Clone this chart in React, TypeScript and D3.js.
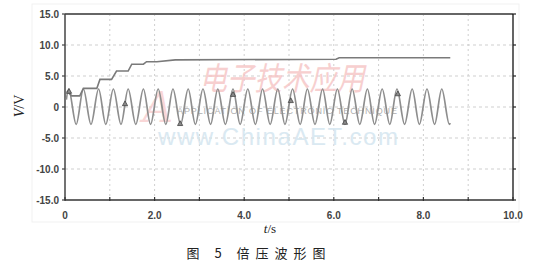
import React from "react";
import * as d3 from "d3";

const xTicksMajor = [0, 2, 4, 6, 8, 10];
const xTickLabels = ["0", "2.0", "4.0", "6.0", "8.0", "10.0"];
const xGrid = [1, 2, 3, 4, 5, 6, 7, 8, 9];
const yTicks = [15, 10, 5, 0, -5, -10, -15];
const yTickLabels = ["15.0", "10.0", "5.0", "0", "-5.0", "-10.0", "-15.0"];
const yGrid = [10, 5, 0, -5, -10];

// stepped (doubled) voltage trace
const stepT = [0.04, 0.15, 0.33, 0.41, 0.71, 0.78, 1.04, 1.15, 1.41, 1.49, 1.75, 1.82, 2.05, 2.46, 6.05, 6.12, 8.6];
const stepV = [2.6, 1.8, 1.8, 3.0, 3.0, 4.45, 4.45, 5.8, 5.8, 6.9, 6.9, 7.3, 7.3, 7.6, 7.7, 7.95, 7.95];

// AC input trace: read extrema
const peakT = [0.08, 0.41, 0.75, 1.08, 1.41, 1.75, 2.08, 2.41, 2.75, 3.08, 3.41, 3.75, 4.08, 4.41, 4.75, 5.08, 5.41, 5.75, 6.08, 6.41, 6.75, 7.08, 7.41, 7.75, 8.08, 8.41];
const troughT = [0.25, 0.58, 0.91, 1.25, 1.58, 1.91, 2.25, 2.58, 2.91, 3.25, 3.58, 3.91, 4.25, 4.58, 4.91, 5.25, 5.58, 5.91, 6.25, 6.58, 6.91, 7.25, 7.58, 7.91, 8.25, 8.58];
const peakV = 2.9;
const troughV = -2.8;
const waveStart = [0.03, 1.2];
const waveEnd = [8.6, -2.6];

// triangle markers
const markT = [0.09, 1.34, 2.57, 3.75, 5.04, 6.25, 7.43];
const markV = [2.5, 0.5, -2.7, 2.0, 1.0, -2.5, 2.1];

export default function App() {
  const x = d3.scaleLinear().domain([0, 10]).range([65, 513]);
  const y = d3.scaleLinear().domain([-15, 15]).range([200, 14]);

  const wavePts: [number, number][] = [[waveStart[0], waveStart[1]]];
  for (let i = 0; i < peakT.length; i++) {
    wavePts.push([peakT[i], peakV]);
    if (troughT[i] < waveEnd[0] - 0.01) wavePts.push([troughT[i], troughV]);
  }
  wavePts.push([waveEnd[0], waveEnd[1]]);

  const waveLine = d3
    .line<[number, number]>()
    .x((d) => x(d[0]))
    .y((d) => y(d[1]))
    .curve(d3.curveMonotoneX);

  const stepPts: [number, number][] = stepT.map((t, i) => [t, stepV[i]]);
  const stepLine = d3
    .line<[number, number]>()
    .x((d) => x(d[0]))
    .y((d) => y(d[1]));

  const tickFont = "'Liberation Sans Narrow', 'Liberation Sans', Arial, sans-serif";
  const [x0, x1] = x.range();
  const [yb, yt] = y.range();

  return (
    <svg width={538} height={269} style={{ position: "absolute", left: 0, top: 0, background: "#fff" }}>
      <rect x={32} y={4} width={487} height={218} fill="none" stroke="#f1f1f1" strokeWidth={1} />
      {/* grid */}
      {xGrid.map((g) => (
        <line key={"gx" + g} x1={x(g)} x2={x(g)} y1={yt} y2={yb} stroke="#cfcfcf" strokeDasharray="2,3" strokeWidth={1} />
      ))}
      {yGrid.map((g) => (
        <line key={"gy" + g} x1={x0} x2={x1} y1={y(g)} y2={y(g)} stroke="#cfcfcf" strokeDasharray="3,3" strokeWidth={1} />
      ))}

      {/* watermarks */}
      <text x={282} y={90} fontFamily="'Noto Sans CJK SC', sans-serif" fontSize={32} fontStyle="italic" fill="#f6c4c4" opacity={0.8} textAnchor="middle" textLength={165} lengthAdjust="spacingAndGlyphs">
        电子技术应用
      </text>
      <text x={158} y={122} fontFamily="'DejaVu Serif', serif" fontSize={42} fontStyle="italic" fill="#f7caca" opacity={0.75} textAnchor="middle">
        A
      </text>
      <text x={287} y={114} fontFamily="'Liberation Sans', sans-serif" fontSize={9} fill="#b0b0b0" textAnchor="middle" textLength={220}>
        APPLICATION OF ELECTRONIC TECHNIQUE
      </text>
      <text x={278} y={145} fontFamily="'Liberation Sans', sans-serif" fontSize={24} fill="#d4e6f0" opacity={0.85} textAnchor="middle" textLength={240}>
        www.ChinaAET.com
      </text>

      {/* axes frame */}
      <line x1={x0} x2={x1} y1={yt} y2={yt} stroke="#666" strokeWidth={2} />
      <line x1={x1} x2={x1} y1={yt} y2={yb} stroke="#111" strokeWidth={1.3} />
      <line x1={x0} x2={x0} y1={yt} y2={yb} stroke="#444" strokeWidth={1.5} />
      <line x1={x0} x2={x1} y1={yb} y2={yb} stroke="#333" strokeWidth={1.5} />
      {yTicks.map((t) => (
        <g key={"yt" + t}>
          <line x1={x0 - 3} x2={x0} y1={y(t)} y2={y(t)} stroke="#444" strokeWidth={1.2} />
          <line x1={x1} x2={x1 + 3} y1={y(t)} y2={y(t)} stroke="#222" strokeWidth={1.2} />
        </g>
      ))}
      {xGrid.concat([0, 10]).map((t) => (
        <line key={"xt" + t} x1={x(t)} x2={x(t)} y1={yb - 3} y2={yb + 1} stroke="#333" strokeWidth={1.2} />
      ))}
      {yTicks.map((t, i) => (
        <text key={"yl" + t} x={59} y={y(t) + 3.5} textAnchor="end" fontFamily={tickFont} fontSize={10} fill="#444" fontWeight="bold">
          {yTickLabels[i]}
        </text>
      ))}
      {xTicksMajor.map((t, i) => (
        <text key={"xl" + t} x={x(t)} y={219} textAnchor="middle" fontFamily={tickFont} fontSize={10} fill="#444" fontWeight="bold">
          {xTickLabels[i]}
        </text>
      ))}

      {/* traces */}
      <path d={waveLine(wavePts) || ""} fill="none" stroke="#8e8e8e" strokeWidth={1.7} />
      <path d={stepLine(stepPts) || ""} fill="none" stroke="#7a7a7a" strokeWidth={1.6} />
      {markT.map((t, i) => {
        const cx = x(t);
        const cy = y(markV[i]);
        return (
          <path key={"m" + i} d={`M${cx},${cy - 3}L${cx + 2.6},${cy + 1.8}L${cx - 2.6},${cy + 1.8}Z`} fill="#8a8a8a" stroke="#444" strokeWidth={0.8} />
        );
      })}

      {/* axis titles */}
      <text transform="translate(24,106) rotate(-90)" textAnchor="middle" fontFamily="'Liberation Serif', 'DejaVu Serif', serif" fontSize={14} fill="#222">
        <tspan fontStyle="italic">V</tspan>/V
      </text>
      <text x={270} y={233} textAnchor="middle" fontFamily="'Liberation Serif', 'DejaVu Serif', serif" fontSize={13} fill="#222">
        <tspan fontStyle="italic">t</tspan>/s
      </text>
      <text x={259} y={258} textAnchor="middle" fontFamily="'Noto Sans CJK SC', sans-serif" fontSize={13} fill="#222" letterSpacing={6}>
        图 5 倍压波形图
      </text>
    </svg>
  );
}
